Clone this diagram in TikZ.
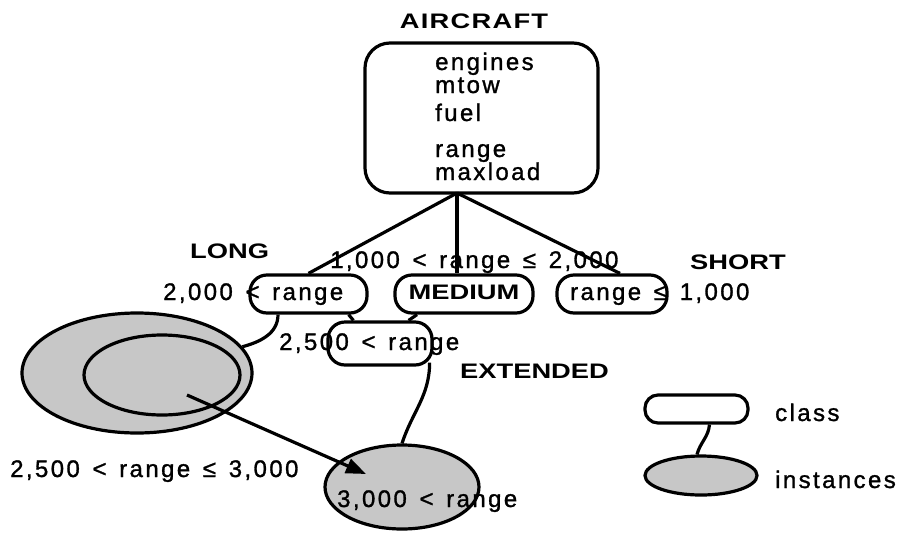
\documentclass[tikz,border=0pt]{standalone}
\usepackage{fontspec}
\setmainfont{Liberation Sans}[LetterSpace=10,WordSpace=1.4,FakeBold=1.2]
\newfontfamily\labfont{Liberation Sans}[FakeStretch=1.3]
\usetikzlibrary{shapes.geometric,arrows.meta}
\begin{document}
\begin{tikzpicture}[x=1pt,y=-1pt,
  txt/.style={inner sep=0pt, anchor=base west, font=\fontsize{24}{28}\selectfont},
  lab/.style={inner sep=0pt, anchor=base west, font=\labfont\bfseries\fontsize{21}{25}\selectfont},
  cls/.style={draw, line width=3.2pt, rounded corners=17pt, inner sep=0pt},
  inst/.style={draw, ellipse, line width=3.2pt, fill=black!22, inner sep=0pt},
  link/.style={line width=3.2pt}]
\useasboundingbox (0,0) rectangle (912,536);

% class boxes
\node[cls, rounded corners=25pt, minimum width=233pt, minimum height=150pt] (air) at (481.5,118) {};
\node[cls, minimum width=117pt, minimum height=38pt] (longbox) at (308.5,294) {};
\node[cls, minimum width=138pt, minimum height=38pt] (medbox) at (464,294) {};
\node[cls, minimum width=110pt, minimum height=38pt] (shortbox) at (612,294) {};
\node[cls, minimum width=104pt, minimum height=43pt] (extbox) at (380,343.5) {};

% instance sets
\node[inst, minimum width=230pt, minimum height=120pt] (longinst) at (137,373) {};
\node[inst, minimum width=156pt, minimum height=80pt] (extsub) at (162,375) {};
\node[inst, minimum width=154pt, minimum height=84pt] (extinst) at (402,487) {};

% legend
\node[cls, rounded corners=13pt, minimum width=103pt, minimum height=28pt] (legbox) at (696.5,409) {};
\node[inst, minimum width=112pt, minimum height=39pt] (legell) at (701,475.5) {};

% texts
\node[lab, anchor=base, font=\labfont\bfseries\fontsize{21}{25}\selectfont\addfontfeature{LetterSpace=6}] (taircraft) at (474,28) {AIRCRAFT};
\node[txt] (tengines) at (435,70) {engines};
\node[txt] (tmtow) at (435,93) {mtow};
\node[txt] (tfuel) at (435,121) {fuel};
\node[txt] (trange) at (435,157) {range};
\node[txt] (tmaxload) at (435,180) {maxload};

\node[lab] (tlong) at (190,258) {LONG};
\node[lab] (tshort) at (690,269) {SHORT};
\node[lab, anchor=base] (tmedium) at (464,299) {MEDIUM};
\node[lab] (textended) at (460,378) {EXTENDED};

\node[txt] (tmedcond) at (330,268) {1,000 < range ≤ 2,000};
\node[txt] (tlongcond) at (163,300) {2,000 < range};
\node[txt] (tshortcond) at (570,300) {range ≤ 1,000};
\node[txt] (textcond) at (279,350) {2,500 < range};
\node[txt] (tsubcond) at (10,477) {2,500 < range ≤ 3,000};
\node[txt] (tinstcond) at (337,507) {3,000 < range};

\node[txt] (tclass) at (775,421) {class};
\node[txt] (tinstances) at (775,488) {instances};

% connectors
\coordinate (hub) at (457,193);
\draw[link] (hub) -- (longbox.north);
\draw[link] (hub) -- (hub |- medbox.north);
\draw[link] (hub) -- ([xshift=8pt]shortbox.north);
\draw[link] ([xshift=-20pt]longbox.south east) -- ([xshift=27pt]extbox.north west);
\draw[link] ([xshift=-47pt]medbox.south) -- ([xshift=-25pt]extbox.north east);
\draw[link] ([xshift=-30.5pt]longbox.south) to[out=-90,in=15] (longinst.14);
\draw[link] ([xshift=-4pt,yshift=4pt]extbox.south east) to[out=-90,in=72] (extinst.north);
\draw[link] ([xshift=13pt]legbox.south) to[out=-95,in=75] ([xshift=-4pt]legell.north);

\coordinate (astart) at (187,395);
\coordinate (atip) at (366,474);
\draw[link, -{Triangle[length=20pt,width=15pt]}] (astart) -- (atip);
\end{tikzpicture}
\end{document}
